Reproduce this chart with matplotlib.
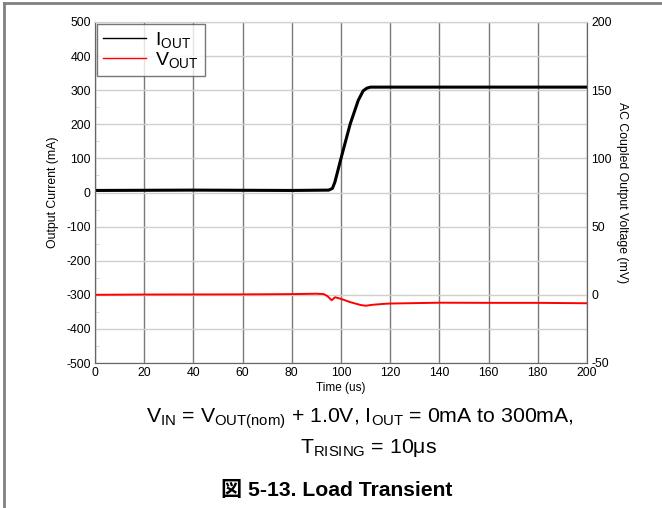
import matplotlib
matplotlib.use("Agg")
import matplotlib.pyplot as plt
from matplotlib.lines import Line2D
from matplotlib.ticker import MultipleLocator

plt.rcParams['font.family'] = ['Liberation Sans', 'Noto Sans CJK JP', 'DejaVu Sans']
plt.rcParams['mathtext.fontset'] = 'custom'
plt.rcParams['mathtext.rm'] = 'Liberation Sans'
plt.rcParams['mathtext.it'] = 'Liberation Sans'
plt.rcParams['axes.unicode_minus'] = False

# load current step (mA)
i_time = [0, 40, 80, 95, 96.5, 97.5, 100, 103.7, 107, 109, 110.5, 112, 150, 200]
i_out = [6, 7, 6, 7, 12, 30, 100, 200, 270, 298, 306, 309, 309, 309]

# AC coupled output voltage (mV)
v_time = [0, 20, 60, 80, 90, 93, 94.5, 96.2, 97.6, 100, 104, 108, 110, 113,
          117, 120, 130, 140, 160, 180, 200]
v_out = [0, 0.2, 0.3, 0.5, 0.8, 0.5, -1, -4, -1.8, -3, -5.5, -7.5, -8, -7.3,
         -6.7, -6.4, -6.1, -5.8, -5.9, -5.9, -6.2]

x_ticks = list(range(0, 201, 20))
left_ticks = list(range(-500, 501, 100))
right_ticks = list(range(-50, 201, 50))

fig = plt.figure(figsize=(6.62, 5.08), dpi=100)
ax = fig.add_axes([95 / 662, 1 - 363 / 508, 492 / 662, 341 / 508])
ax2 = ax.twinx()

ax.set_xlim(0, 200)
ax.set_ylim(-500, 500)
ax2.set_ylim(-50, 200)
ax.set_xticks(x_ticks)
ax.set_yticks(left_ticks)
ax2.set_yticks(right_ticks)
ax.yaxis.set_minor_locator(MultipleLocator(50))

ax.xaxis.grid(True, color='#7a7a7a', lw=1)
ax.yaxis.grid(True, color='#d0d0d0', lw=1)
ax.set_axisbelow(True)

for a in (ax, ax2):
    a.tick_params(axis='both', which='major', length=0, labelsize=8.8, pad=3, colors='black')
    for s in a.spines.values():
        s.set_color('#666666')
    a.spines['top'].set_color('#d0d0d0')
ax.tick_params(axis='y', which='minor', length=3, direction='in', color='#d0d0d0')

l2, = ax2.plot(v_time, v_out, color='#ff0000', lw=1.4)
l1, = ax.plot(i_time, i_out, color='black', lw=2.2)
ax2.set_zorder(ax.get_zorder() + 1)
ax2.patch.set_visible(False)

ax.set_xlabel('Time (us)', fontsize=8.5, labelpad=2)
ax.set_ylabel('Output Current (mA)', fontsize=8.8, labelpad=5)
ax2.set_ylabel('AC Coupled Output Voltage (mV)', fontsize=8.8, rotation=270, labelpad=12)

leg_lines = [Line2D([], [], color='black', lw=1), Line2D([], [], color='#ff0000', lw=1)]
leg = ax2.legend(leg_lines, [r'I$_{\mathrm{OUT}}$', r'V$_{\mathrm{OUT}}$'],
                 loc='upper left', fontsize=14, frameon=True, fancybox=False,
                 borderaxespad=0.1, handlelength=2.2, handletextpad=0.5,
                 labelspacing=0.0, borderpad=0.3)
leg.get_frame().set_edgecolor('#555555')
leg.get_frame().set_linewidth(1)

fig.text(0.544, 1 - 419 / 508,
         r'V$_{\mathrm{IN}}$ = V$_{\mathrm{OUT(nom)}}$ + 1.0V, I$_{\mathrm{OUT}}$ = 0mA to 300mA,',
         ha='center', va='center', fontsize=15.3)
fig.text(0.557, 1 - 448 / 508, r'T$_{\mathrm{RISING}}$ = 10μs',
         ha='center', va='center', fontsize=15.3)
fig.text(0.508, 1 - 490 / 508, '図 5-13. Load Transient',
         ha='center', va='center', fontsize=15.2, fontweight='bold')

# outer frame
fig.add_artist(Line2D([3.5 / 662, 3.5 / 662], [0, 1 - 2.5 / 508], color='#808080', lw=2,
                      transform=fig.transFigure))
fig.add_artist(Line2D([3.5 / 662, 1], [1 - 2.5 / 508, 1 - 2.5 / 508], color='#808080', lw=2,
                      transform=fig.transFigure))

fig.savefig('out.png', dpi=100)
